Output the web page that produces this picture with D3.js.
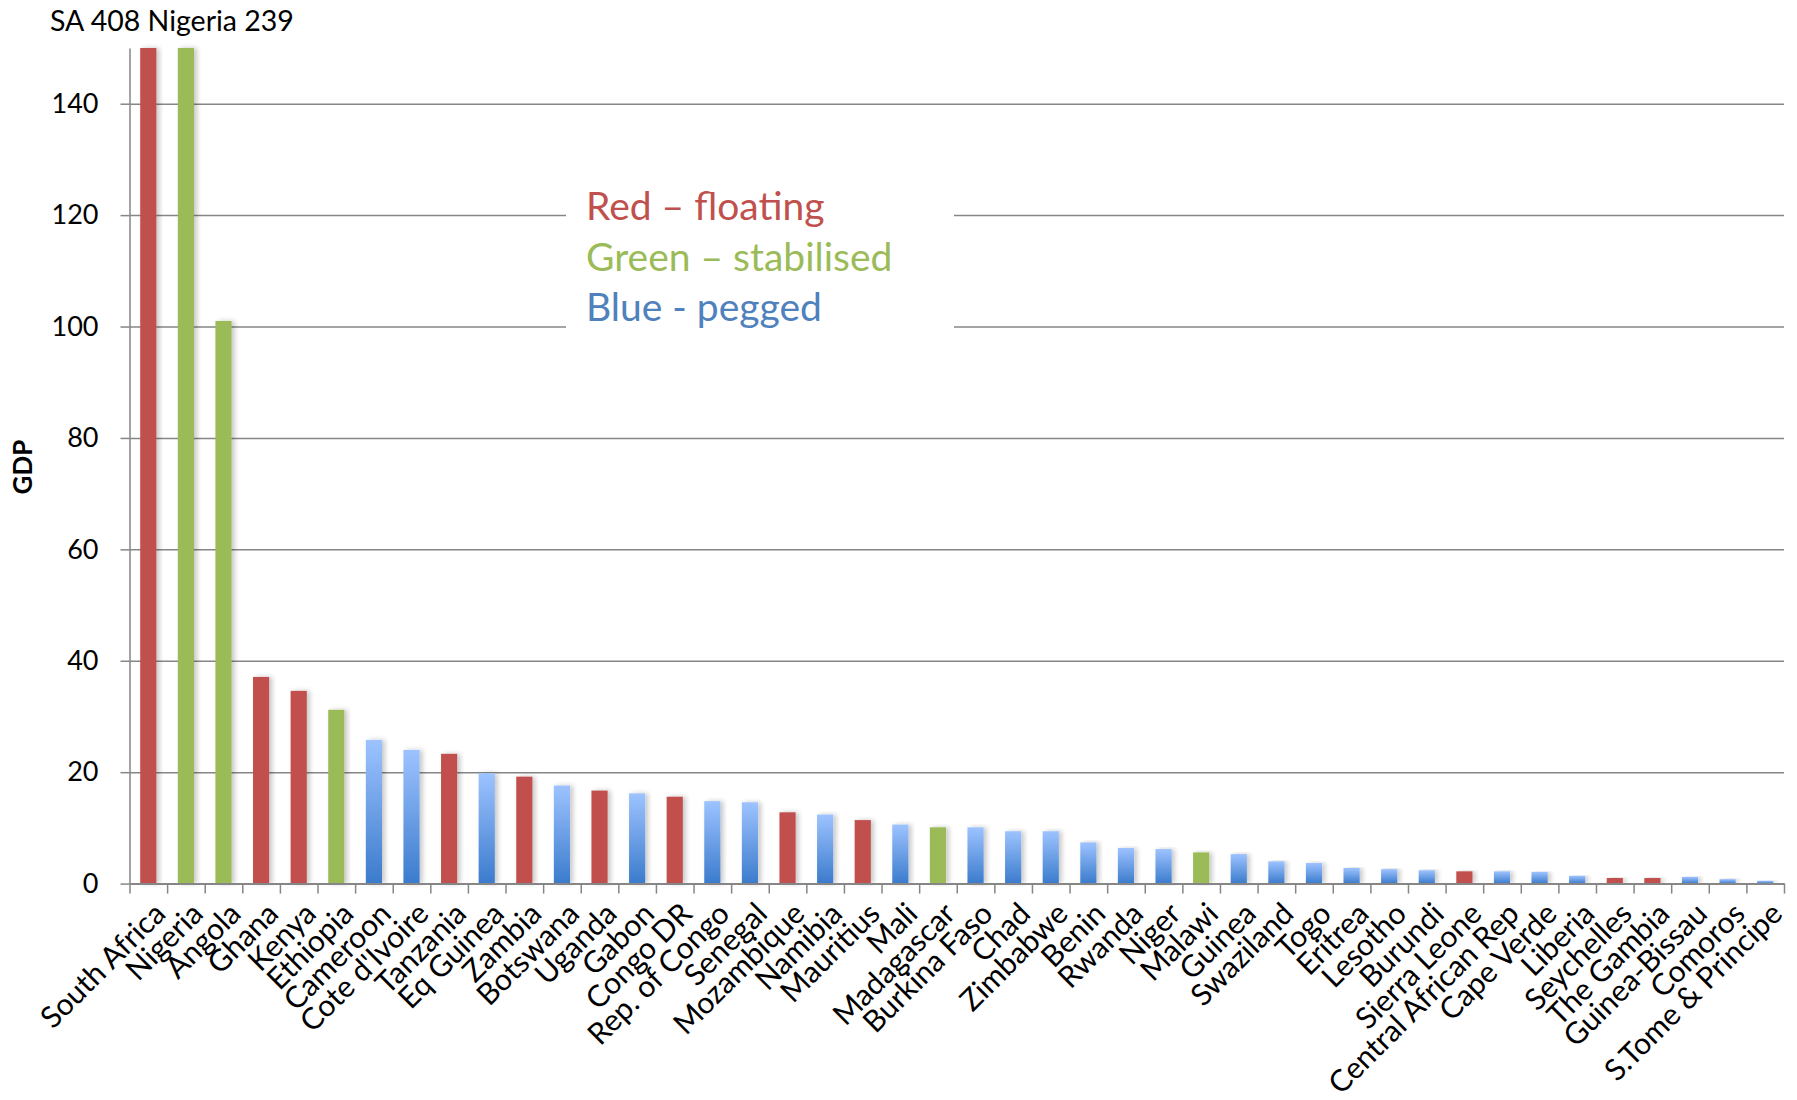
<!DOCTYPE html>
<html>
<head>
<meta charset="utf-8">
<script src="https://cdn.jsdelivr.net/npm/d3@7"></script>
<style>
  body { margin: 0; background: #fff; }
  text { font-family: Lato, "Open Sans", sans-serif; }
</style>
</head>
<body>
<script>
// countries in chart order
const countries = ["South Africa","Nigeria","Angola","Ghana","Kenya","Ethiopia","Cameroon","Cote d'Ivoire",
  "Tanzania","Eq Guinea","Zambia","Botswana","Uganda","Gabon","Congo DR","Rep. of Congo","Senegal",
  "Mozambique","Namibia","Mauritius","Mali","Madagascar","Burkina Faso","Chad","Zimbabwe","Benin",
  "Rwanda","Niger","Malawi","Guinea","Swaziland","Togo","Eritrea","Lesotho","Burundi","Sierra Leone",
  "Central African Rep","Cape Verde","Liberia","Seychelles","The Gambia","Guinea-Bissau","Comoros",
  "S.Tome & Principe"]

const gdp = [408,239,101,37.1,34.6,31.2,25.8,24.0,23.3,19.8,19.2,17.6,16.7,16.2,15.6,14.8,14.6,
  12.8,12.4,11.4,10.6,10.1,10.1,9.4,9.4,7.4,6.4,6.2,5.6,5.3,4.0,3.7,2.8,2.6,2.4,2.2,2.2,2.1,1.4,
  1.0,1.0,1.2,0.8,0.5]

// R = floating, G = stabilised, B = pegged
const regime = ["R","G","G","R","R","G","B","B","R","B","R","B","R","B","R","B","B","R","B","R",
  "B","G","B","B","B","B","B","B","G","B","B","B","B","B","B","R","B","B","B","R","R","B","B","B"]

const yTicks = [0,20,40,60,80,100,120,140]
const legendLines = ["Red \u2013 floating","Green \u2013 stabilised","Blue - pegged"]

const width = 1797
const height = 1100
const plotL = 129.5, plotR = 1784, plotT = 48, plotB = 883.6

const svg = d3.select("body").append("svg")
  .attr("width", width)
  .attr("height", height)

const defs = svg.append("defs")
const grad = defs.append("linearGradient")
  .attr("id","blueGrad").attr("x1",0).attr("y1",0).attr("x2",0).attr("y2",1)
grad.append("stop").attr("offset","0%").attr("stop-color","#9dc3ff")
grad.append("stop").attr("offset","100%").attr("stop-color","#3b7bcc")
const shadow = defs.append("filter").attr("id","shadow")
  .attr("x","-20%").attr("y","-5%").attr("width","160%").attr("height","110%")
shadow.append("feDropShadow").attr("dx",3).attr("dy",0).attr("stdDeviation",2.5)
  .attr("flood-color","#000").attr("flood-opacity",0.22)

const colors = {R:"#c0504d", G:"#9bbb59", B:"url(#blueGrad)"}
const textColors = ["#c0504d","#9bbb59","#4f81bd"]

const y = d3.scaleLinear().domain([0,150]).range([plotB,plotT]).clamp(true)
const x = d3.scaleBand().domain(countries).range([plotL,plotR])
  .paddingInner(0.57).paddingOuter(0.285)
const xEdges = d3.scaleLinear().domain([0,countries.length]).range([plotL,plotR])

// gridlines
svg.append("g")
  .attr("transform","translate("+plotL+",0)")
  .call(d3.axisLeft(y).tickValues(yTicks.slice(1)).tickSize(-(plotR-plotL)).tickFormat(""))
  .call(g => g.select(".domain").remove())
  .selectAll("line").attr("stroke","#868686").attr("stroke-width",1.5)

// legend box hides the grid behind it
svg.append("rect").attr("x",566).attr("y",160).attr("width",388).attr("height",176).attr("fill","#fff")

svg.selectAll(".legend").data(legendLines).enter().append("text")
  .attr("class","legend")
  .attr("x",586)
  .attr("y",(d,i)=>220+i*50.5)
  .attr("fill",(d,i)=>textColors[i])
  .style("font-size","39px")
  .text(d=>d)

// bars
svg.selectAll(".bar").data(countries).enter().append("rect")
  .attr("class","bar")
  .attr("x",d=>x(d))
  .attr("y",(d,i)=>y(gdp[i]))
  .attr("width",x.bandwidth())
  .attr("height",(d,i)=>plotB-y(gdp[i]))
  .attr("fill",(d,i)=>colors[regime[i]])
  .attr("filter","url(#shadow)")

// y axis
const yAxis = svg.append("g")
  .attr("transform","translate("+plotL+",0)")
  .call(d3.axisLeft(y).tickValues(yTicks).tickSize(9).tickPadding(22).tickSizeOuter(0))
yAxis.select(".domain").attr("stroke","#868686").attr("stroke-width",1.5)
yAxis.selectAll("line").attr("stroke","#868686").attr("stroke-width",1.5)
yAxis.selectAll("text").style("font-size","27px").attr("fill","#000")

// x axis tick marks at category edges
const xAxis = svg.append("g")
  .attr("transform","translate(0,"+plotB+")")
  .call(d3.axisBottom(xEdges).tickValues(d3.range(countries.length+1)).tickSize(10).tickFormat("").tickSizeOuter(0))
xAxis.select(".domain").attr("stroke","#868686").attr("stroke-width",2)
xAxis.selectAll("line").attr("stroke","#868686").attr("stroke-width",1.5)

// x labels
const xLab = svg.append("g")
  .attr("transform","translate(0,"+plotB+")")
  .call(d3.axisBottom(x).tickSize(0).tickPadding(0))
xLab.select(".domain").remove()
xLab.selectAll("text")
  .style("font-size","30px")
  .attr("fill","#000")
  .attr("text-anchor","end")
  .attr("dy",0)
  .attr("transform","translate(19,32) rotate(-45)")

// title and axis label
svg.append("text").attr("x",50).attr("y",31).style("font-size","28.5px").text("SA 408 Nigeria 239")
svg.append("text")
  .attr("transform","translate(32,467) rotate(-90)")
  .attr("text-anchor","middle")
  .style("font-size","26px").style("font-weight","bold")
  .text("GDP")
</script>
</body>
</html>
